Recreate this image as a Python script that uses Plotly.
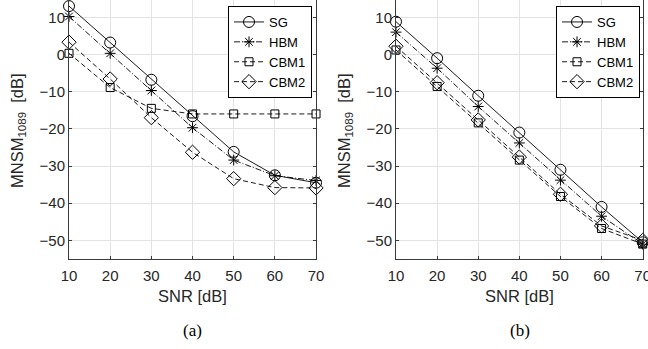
import plotly.graph_objects as go

snr = [10, 20, 30, 40, 50, 60, 70]

a_sg = [13.0, 3.2, -6.8, -16.6, -26.2, -32.5, -34.5]
a_hbm = [10.2, 0.3, -9.7, -19.7, -28.4, -32.6, -33.9]
a_cbm1 = [0.3, -8.9, -14.5, -16.0, -16.0, -16.0, -16.0]
a_cbm2 = [3.3, -6.6, -17.0, -26.3, -33.4, -35.8, -35.9]

b_sg = [8.8, -1.0, -11.1, -21.0, -31.0, -41.0, -50.5]
b_hbm = [6.0, -3.7, -14.0, -23.8, -33.8, -43.5, -51.0]
b_cbm1 = [1.2, -8.6, -18.4, -28.4, -38.2, -46.8, -51.0]
b_cbm2 = [2.2, -7.6, -17.6, -27.6, -37.6, -46.1, -50.0]

names = ["SG", "HBM", "CBM1", "CBM2"]
xticks = [10, 20, 30, 40, 50, 60, 70]
yticks = [10, 0, -10, -20, -30, -40, -50]

styles = {
    "SG": dict(dash="solid", symbol="circle-open", size=11),
    "HBM": dict(dash="6px,2px,1px,2px", symbol="asterisk-open", size=9),
    "CBM1": dict(dash="5px,3px", symbol="square-open", size=8),
    "CBM2": dict(dash="5px,3px", symbol="diamond-open", size=11),
}

FONT = "Arial"
AXC = "#3a3a3a"

fig = go.Figure()

panels = [
    ("x", "y", "legend", [a_sg, a_hbm, a_cbm1, a_cbm2]),
    ("x2", "y2", "legend2", [b_sg, b_hbm, b_cbm1, b_cbm2]),
]
for xa, ya, lg, series in panels:
    for name, vals in zip(names, series):
        st = styles[name]
        fig.add_trace(go.Scatter(
            x=snr, y=vals, name=name, xaxis=xa, yaxis=ya, legend=lg,
            mode="lines+markers",
            line=dict(color="black", width=0.9, dash=st["dash"]),
            marker=dict(symbol=st["symbol"], size=st["size"], color="black",
                        line=dict(color="black", width=1)),
            cliponaxis=False,
        ))

axis_common = dict(
    showgrid=True, gridcolor="#e3e3e3", gridwidth=1, zeroline=False,
    showline=True, linecolor=AXC, linewidth=1,
    ticks="inside", ticklen=3, tickcolor=AXC, tickwidth=1,
    tickfont=dict(family=FONT, size=15, color="#262626"),
    ticklabeloverflow="allow",
)

yrange = [-55, 14.64]
legend_common = dict(yanchor="top", xanchor="left",
                     bgcolor="white", bordercolor="black", borderwidth=1,
                     font=dict(family=FONT, size=13, color="black"),
                     itemwidth=30, tracegroupgap=0)
fig.update_layout(
    width=648, height=349,
    margin=dict(l=0, r=0, t=0, b=0, pad=0, autoexpand=False),
    paper_bgcolor="white", plot_bgcolor="white",
    showlegend=True,
    xaxis=dict(domain=[0.1065, 0.4877], range=[10, 70], tickvals=xticks,
               anchor="y", mirror=False, ticklabelstandoff=3, **axis_common),
    yaxis=dict(domain=[0.2579, 1.0], range=yrange, tickvals=yticks,
               anchor="x", mirror="ticks", **axis_common),
    xaxis2=dict(domain=[0.6111, 0.9918], range=[10, 70], tickvals=xticks,
                anchor="y2", mirror=False, ticklabelstandoff=3, **axis_common),
    yaxis2=dict(domain=[0.2579, 1.0], range=yrange, tickvals=yticks,
                anchor="x2", mirror="ticks", **axis_common),
    legend=dict(x=228 / 648, y=1 - 6 / 349, **legend_common),
    legend2=dict(x=556 / 648, y=1 - 6 / 349, **legend_common),
)

ylab = "MNSM<sub>1089</sub> &nbsp;[dB]"
ann = []
for cx, cxl, lab in [(18, 192.5, "(a)"), (345, 519.5, "(b)")]:
    ann.append(dict(x=cx / 648, y=1 - 131 / 349, xref="paper", yref="paper",
                    text=ylab, textangle=-90, showarrow=False,
                    font=dict(family=FONT, size=16.5, color="#262626"),
                    xanchor="center", yanchor="middle"))
    ann.append(dict(x=cxl / 648, y=1 - 296 / 349, xref="paper", yref="paper",
                    text="SNR [dB]", showarrow=False,
                    font=dict(family=FONT, size=16.5, color="#262626"),
                    xanchor="center", yanchor="middle"))
    ann.append(dict(x=cxl / 648, y=1 - 330 / 349, xref="paper", yref="paper",
                    text=lab, showarrow=False,
                    font=dict(family="Liberation Serif, Times New Roman, serif",
                              size=17, color="black"),
                    xanchor="center", yanchor="middle"))
fig.update_layout(annotations=ann)

fig.write_html(
    "out.html",
    config={"displayModeBar": False},
    post_script="document.body.style.margin='0';"
                "document.body.style.overflow='hidden';",
)
